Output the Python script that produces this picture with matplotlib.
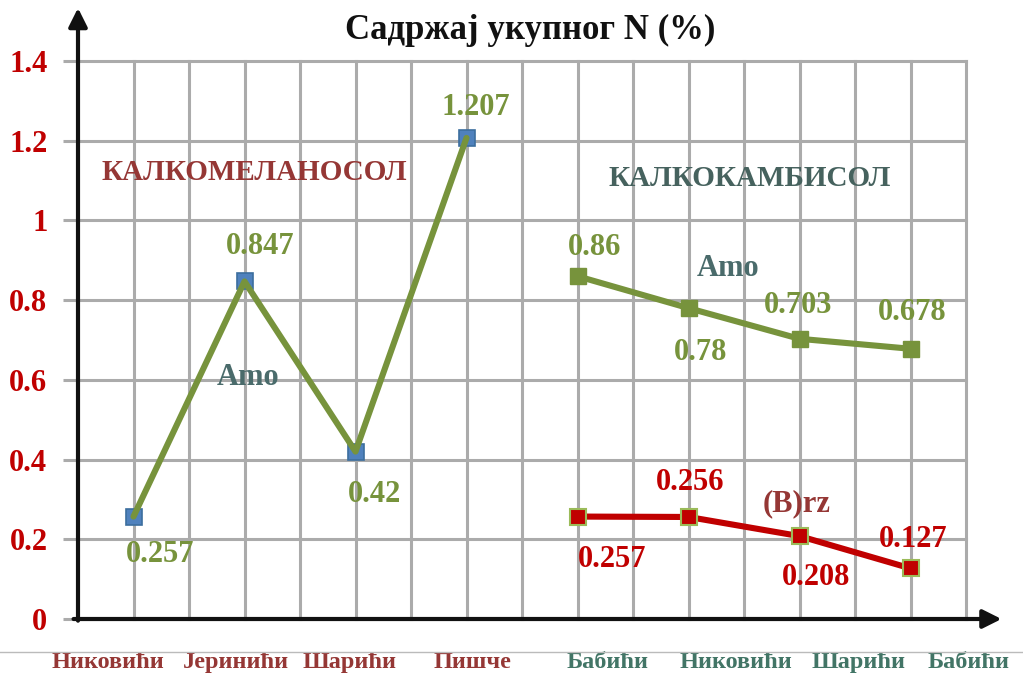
import numpy as np
import matplotlib.pyplot as plt
from matplotlib.lines import Line2D

plt.rcParams['font.family'] = ['Liberation Serif', 'DejaVu Serif']
plt.rcParams['font.weight'] = 'bold'

# Садржај укупног N (%) по локалитетима
lokaliteti = ['Никовићи', 'Јеринићи', 'Шарићи', 'Пишче',
              'Бабићи', 'Никовићи', 'Шарићи', 'Бабићи']
amo_kalkomelanosol = [0.257, 0.847, 0.42, 1.207]
amo_kalkokambisol = [0.86, 0.78, 0.703, 0.678]
brz_kalkokambisol = [0.257, 0.256, 0.208, 0.127]

# pomeraji natpisa vrednosti (u tačkama)
off_amo1 = [(19, -27), (11, 25), (14, -31), (7, 22)]
off_amo2 = [(12, 21), (9, -32), (-1, 24), (1, 26)]
off_brz = [(25, -31), (1, 25), (12, -30), (2, 21)]

zelena = '#77933C'
plava = '#4F81BD'
crvena = '#C00000'
bordo = '#953735'
tirkiz = '#427566'
siva = '#ABABAB'

x = np.arange(len(lokaliteti)) + 0.5
x1, x2 = x[:4], x[4:]

fig = plt.figure(figsize=(10.23, 6.73), dpi=100)
ax = fig.add_axes([78 / 1023, 54 / 673, 888 / 1023, 558 / 673])
ax.set_xlim(0, 8)
ax.set_ylim(0, 1.4)

# mreža
ax.set_xticks(np.arange(0.5, 8.01, 0.5))
ax.set_xticklabels([])
ax.tick_params(axis='x', length=0)
ax.set_yticks(np.arange(0, 1.41, 0.2))
ax.set_yticklabels(['0', '0.2', '0.4', '0.6', '0.8', '1', '1.2', '1.4'])
ax.tick_params(axis='y', length=11, width=2.2, color=siva, pad=11,
               labelsize=22, labelcolor=crvena)
ax.grid(True, color=siva, lw=2.2)
for g in ax.get_xgridlines() + ax.get_ygridlines():
    g.set_clip_on(False)
ax.set_axisbelow(True)
for s in ax.spines.values():
    s.set_visible(False)

# ose sa strelicama
ax.annotate('', xy=(0, 1.095), xytext=(0, -0.003), xycoords='axes fraction',
            arrowprops=dict(arrowstyle='-|>', lw=3, color='#111111',
                            mutation_scale=28, shrinkA=0, shrinkB=0),
            annotation_clip=False)
ax.annotate('', xy=(1.04, 0), xytext=(-0.005, 0), xycoords='axes fraction',
            arrowprops=dict(arrowstyle='-|>', lw=3, color='#111111',
                            mutation_scale=28, shrinkA=0, shrinkB=0),
            annotation_clip=False)

# serije
ax.plot(x1, amo_kalkomelanosol, 's', ms=11, mfc=plava, mec='#3C6E9E',
        mew=1.2, zorder=3)
ax.plot(x1, amo_kalkomelanosol, '-', color=zelena, lw=4.4,
        solid_capstyle='round', zorder=4)
ax.plot(x2, amo_kalkokambisol, '-s', color=zelena, lw=4.4, ms=11,
        mfc=zelena, mec=zelena, zorder=4)
ax.plot(x2, brz_kalkokambisol, '-s', color=crvena, lw=4.4, ms=11,
        mfc=crvena, mec='#9BBB59', mew=1.5, zorder=4)

for xs, ys, offs, c in [(x1, amo_kalkomelanosol, off_amo1, zelena),
                        (x2, amo_kalkokambisol, off_amo2, zelena),
                        (x2, brz_kalkokambisol, off_brz, crvena)]:
    for xi, yi, o in zip(xs, ys, offs):
        ax.annotate(f'{yi:g}', (xi, yi), xytext=o, textcoords='offset points',
                    ha='center', va='center', fontsize=22, color=c,
                    fontweight='bold', zorder=5)

ax.text(1.59, 1.121, 'КАЛКОМЕЛАНОСОЛ', color=bordo, fontsize=21,
        ha='center', va='center', fontweight='bold')
ax.text(6.05, 1.106, 'КАЛКОКАМБИСОЛ', color='#46625E', fontsize=21,
        ha='center', va='center', fontweight='bold')
ax.text(1.53, 0.605, 'Amo', color='#4A6B6B', fontsize=22,
        ha='center', va='center', fontweight='bold')
ax.text(5.86, 0.88, 'Amo', color='#4A6B6B', fontsize=22,
        ha='center', va='center', fontweight='bold')
ax.text(6.47, 0.29, '(B)rz', color=bordo, fontsize=22,
        ha='center', va='center', fontweight='bold')

# natpisi lokaliteta ispod ose
label_x = [0.27, 1.42, 2.45, 3.55, 4.77, 5.93, 7.03, 8.02]
for i, (lx, name) in enumerate(zip(label_x, lokaliteti)):
    ax.text(lx, -0.11, name, ha='center', va='center', fontsize=17.5,
            color=bordo if i < 4 else tirkiz, fontweight='bold', clip_on=False)

fig.add_artist(Line2D([0, 1], [21 / 673, 21 / 673], color='#BBBBBB', lw=1))

fig.text(0.518, 1 - 30 / 673, 'Садржај укупног N (%)', ha='center',
         va='center', fontsize=25, fontweight='bold', color='#111111')

fig.savefig('out.png', dpi=100)
